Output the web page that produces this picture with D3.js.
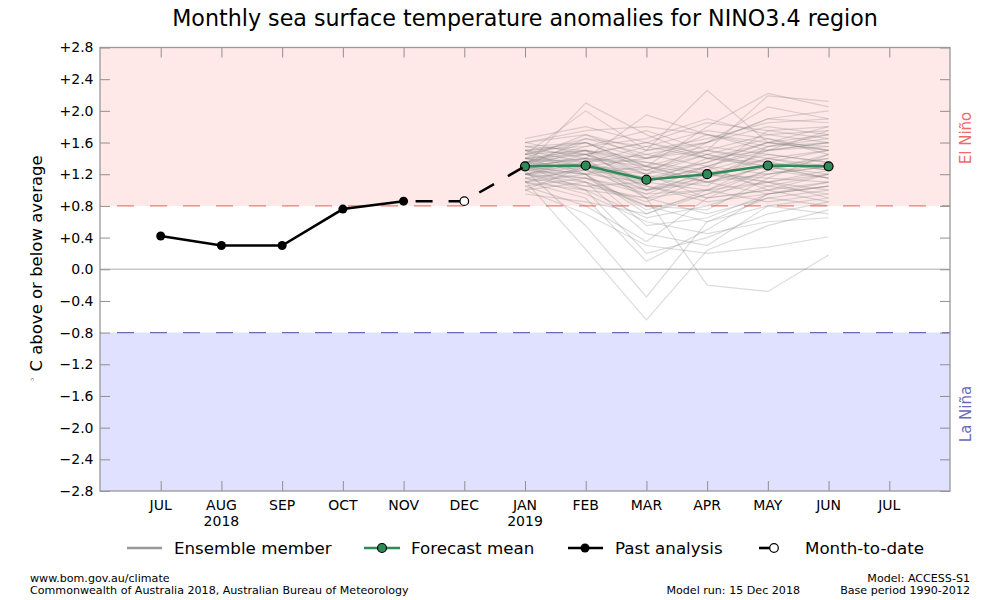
<!DOCTYPE html>
<html><head><meta charset="utf-8">
<script src="https://cdn.jsdelivr.net/npm/d3@7"></script>
<style>
body{margin:0;background:#fff;}
svg{font-family:"DejaVu Sans",sans-serif;}
</style></head>
<body><svg id="c" width="1000" height="600"></svg>
<script>
const months = ["JUL","AUG","SEP","OCT","NOV","DEC","JAN","FEB","MAR","APR","MAY","JUN","JUL"];
const yearLabels = {1:"2018", 6:"2019"};
const yTicks = [-2.8,-2.4,-2.0,-1.6,-1.2,-0.8,-0.4,0,0.4,0.8,1.2,1.6,2.0,2.4,2.8];
const yTickLabels = ["\u22122.8","\u22122.4","\u22122.0","\u22121.6","\u22121.2","\u22120.8","\u22120.4","0.0","+0.4","+0.8","+1.2","+1.6","+2.0","+2.4","+2.8"];
const pastIdx = [0,1,2,3,4];
const pastValues = [0.42,0.30,0.30,0.76,0.86];
const mtdIdx = [4,5,6];
const mtdValues = [0.86,0.86,1.30];
const forecastIdx = [6,7,8,9,10,11];
const forecastMean = [1.30,1.31,1.13,1.20,1.31,1.30];
const ensembleMembers = [
[1.12,0.25,-0.64,0.24,0.55,0.75],
[1.25,0.55,-0.35,0.60,0.90,1.00],
[1.40,1.30,0.90,-0.20,-0.28,0.18],
[1.00,0.70,0.30,0.20,0.28,0.41],
[1.50,1.20,1.50,2.26,1.60,1.50],
[1.30,2.10,1.70,1.40,1.60,1.80],
[1.45,2.00,1.50,1.60,1.90,2.00],
[1.20,1.40,1.95,1.70,1.50,1.60],
[1.35,1.60,1.30,1.80,2.22,2.05],
[1.60,1.70,1.40,1.50,2.19,2.12],
[1.30,1.50,1.20,1.60,2.05,1.90],
[1.10,0.90,0.10,0.50,0.95,1.10],
[1.20,1.00,0.20,0.40,0.70,0.85],
[1.05,0.80,0.35,0.90,1.20,1.30],
[1.30,1.10,0.45,0.30,0.80,0.90],
[1.15,0.95,0.60,0.45,0.60,0.65],
[1.25,1.20,0.70,1.00,0.85,0.95],
[1.50,1.60,1.30,1.20,1.40,1.50],
[1.20,1.30,1.00,1.10,1.30,1.20],
[1.35,1.45,1.60,1.40,1.30,1.40],
[1.40,1.20,1.10,1.30,1.50,1.60],
[1.10,1.00,0.90,1.00,1.10,0.90],
[1.60,1.75,1.80,1.70,1.60,1.70],
[1.30,1.40,1.20,0.90,1.00,1.10],
[1.00,1.10,0.80,0.60,0.80,0.70],
[1.45,1.50,1.30,1.50,1.70,1.75],
[1.25,1.30,1.40,1.60,1.80,1.70],
[1.55,1.60,1.25,1.10,1.20,1.30],
[1.20,1.15,0.95,1.25,1.45,1.35],
[1.35,1.55,1.75,1.50,1.40,1.25],
[1.40,1.35,1.05,0.85,0.95,1.05],
[1.15,1.25,1.15,1.35,1.60,1.50],
[1.30,1.20,0.75,0.95,1.25,1.45],
[1.65,1.80,1.60,1.85,1.75,1.80],
[1.50,1.45,1.10,1.00,1.35,1.25],
[1.05,1.15,1.00,1.20,1.10,1.00],
[1.30,1.65,1.45,1.30,1.55,1.65],
[1.20,1.10,0.85,1.15,1.50,1.55],
[1.45,1.30,1.20,1.45,1.25,1.15],
[1.35,1.40,0.90,0.70,0.90,0.80],
[1.25,1.35,1.55,1.75,1.65,1.50],
[1.55,1.50,1.35,1.25,1.10,1.20],
[1.10,1.20,1.30,1.10,0.95,1.05],
[1.40,1.70,1.50,1.65,1.85,1.90],
[1.20,1.25,1.00,1.30,1.20,1.35],
[1.30,1.00,0.65,0.80,1.05,1.20],
[1.50,1.55,1.65,1.90,1.70,1.60],
[1.15,1.05,1.10,1.40,1.35,1.25],
[1.35,1.30,1.15,1.05,1.55,1.70],
[1.45,1.60,1.40,1.55,1.45,1.35],
[1.25,1.15,0.80,0.75,1.15,1.45],
[1.60,1.45,1.20,1.35,1.60,1.55],
[1.00,1.30,1.25,1.45,1.30,1.15],
[1.30,1.40,1.35,1.20,1.05,0.95],
[1.40,1.50,1.00,1.15,1.40,1.30],
[1.20,1.35,1.45,1.60,1.90,1.85],
[1.35,1.25,0.95,1.00,1.25,1.40],
[1.50,1.35,1.15,1.25,1.75,1.65],
[1.10,1.30,1.05,0.90,1.00,1.20],
[1.45,1.65,1.55,1.40,1.50,1.75],
[1.30,1.20,0.55,0.65,0.95,1.05],
[1.25,1.45,1.25,1.50,1.35,1.50],
[1.55,1.40,1.30,1.10,1.30,1.15],
[1.20,1.05,0.90,1.20,1.15,1.10],
[1.40,1.45,1.60,1.45,1.65,1.45],
[1.30,1.30,1.10,1.30,1.00,0.85],
[0.95,0.85,0.70,0.95,1.10,1.25],
[1.35,1.50,1.40,1.70,1.55,1.60]
];
const elNinoThreshold = 0.8, laNinaThreshold = -0.8;

const svg = d3.select("#c");
const L=100,R=950,T=47.5,B=491;
const x = d3.scaleLinear().domain([-1,13]).range([L,R]);
const y = d3.scaleLinear().domain([-2.8,2.8]).range([B,T]);

// background regions
svg.append("rect").attr("x",L).attr("y",y(2.8)).attr("width",R-L).attr("height",y(elNinoThreshold)-y(2.8)).attr("fill","#fee8e8");
svg.append("rect").attr("x",L).attr("y",y(laNinaThreshold)).attr("width",R-L).attr("height",y(-2.8)-y(laNinaThreshold)).attr("fill","#e0e0ff");

// zero line
svg.append("line").attr("x1",L).attr("x2",R).attr("y1",y(0)).attr("y2",y(0)).attr("stroke","#c8c8c8").attr("stroke-width",1.3);
// thresholds
svg.append("line").attr("x1",L).attr("x2",R).attr("y1",y(elNinoThreshold)).attr("y2",y(elNinoThreshold))
  .attr("stroke","#f07878").attr("stroke-width",1.3).attr("stroke-dasharray","17,16").attr("stroke-dashoffset",-50);
svg.append("line").attr("x1",L).attr("x2",R).attr("y1",y(laNinaThreshold)).attr("y2",y(laNinaThreshold))
  .attr("stroke","#6a6ab8").attr("stroke-width",1.3).attr("stroke-dasharray","17,16").attr("stroke-dashoffset",-50);

// ensemble
const ensLine = d3.line().x((d,i)=>x(forecastIdx[i])).y(d=>y(d));
svg.append("g").selectAll("path").data(ensembleMembers).join("path")
  .attr("d",ensLine).attr("fill","none").attr("stroke","#808080").attr("stroke-opacity",0.28).attr("stroke-width",1.2);

// axes (inward ticks)
const tickColor="#909090";
const gb = svg.append("g").attr("transform",`translate(0,${B})`)
  .call(d3.axisBottom(x).tickValues(d3.range(0,13)).tickSize(-10).tickFormat(""));
const gt = svg.append("g").attr("transform",`translate(0,${T})`)
  .call(d3.axisTop(x).tickValues(d3.range(0,13)).tickSize(-10).tickFormat(""));
const gl = svg.append("g").attr("transform",`translate(${L},0)`)
  .call(d3.axisLeft(y).tickValues(yTicks).tickSize(-10).tickPadding(17).tickFormat((d,i)=>yTickLabels[i]));
const gr = svg.append("g").attr("transform",`translate(${R},0)`)
  .call(d3.axisRight(y).tickValues(yTicks).tickSize(-10).tickFormat(""));
[gb,gt,gl,gr].forEach(g=>{
  g.select(".domain").remove();
  g.selectAll(".tick line").attr("stroke",tickColor).attr("stroke-width",1);
});
gl.selectAll(".tick text").attr("x",-6.5).attr("font-size",14).attr("fill","#000").attr("font-family","DejaVu Sans");
// frame
svg.append("rect").attr("x",L).attr("y",T).attr("width",R-L).attr("height",B-T).attr("fill","none").attr("stroke","#999").attr("stroke-width",1.3);

// month labels
const ml = svg.append("g").attr("font-size",14).attr("text-anchor","middle");
months.forEach((m,i)=>{
  ml.append("text").attr("x",x(i)).attr("y",510).text(m);
  if(yearLabels[i]) ml.append("text").attr("x",x(i)).attr("y",526).text(yearLabels[i]);
});

// forecast mean
const fLine = d3.line().x((d,i)=>x(forecastIdx[i])).y(d=>y(d));
svg.append("path").datum(forecastMean).attr("d",fLine).attr("fill","none").attr("stroke","#2e8b57").attr("stroke-width",2.6);
svg.append("g").selectAll("circle").data(forecastMean).join("circle")
  .attr("cx",(d,i)=>x(forecastIdx[i])).attr("cy",d=>y(d)).attr("r",4.5)
  .attr("fill","#2e8b57").attr("stroke","#000").attr("stroke-width",1.2);

// month to date (dashed)
const mLine = d3.line().x((d,i)=>x(mtdIdx[i])).y(d=>y(d));
svg.append("path").datum(mtdValues).attr("d",mLine).attr("fill","none").attr("stroke","#000").attr("stroke-width",2.5)
  .attr("stroke-dasharray","17,16").attr("stroke-dashoffset",21);

// past analysis
const pLine = d3.line().x((d,i)=>x(pastIdx[i])).y(d=>y(d));
svg.append("path").datum(pastValues).attr("d",pLine).attr("fill","none").attr("stroke","#000").attr("stroke-width",2.5);
svg.append("g").selectAll("circle").data(pastValues).join("circle")
  .attr("cx",(d,i)=>x(pastIdx[i])).attr("cy",d=>y(d)).attr("r",4.5).attr("fill","#000");
// open circle month-to-date
svg.append("circle").attr("cx",x(mtdIdx[1])).attr("cy",y(mtdValues[1])).attr("r",4.3).attr("fill","#fff").attr("stroke","#000").attr("stroke-width",1.2);

// title
svg.append("text").attr("x",525).attr("y",26).attr("text-anchor","middle").attr("font-size",22.2).text("Monthly sea surface temperature anomalies for NINO3.4 region");
// y label
const yl = svg.append("text").attr("transform","translate(42,269) rotate(-90)").attr("text-anchor","middle").attr("font-size",16.5);
yl.append("tspan").attr("font-size",10).attr("dy",-6).text("\u25E6");
yl.append("tspan").attr("dy",6).text(" C above or below average");

// side labels
svg.append("text").attr("transform","translate(971,138) rotate(-90)").attr("text-anchor","middle").attr("font-size",15).attr("fill","#f06a6a").text("El Niño");
svg.append("text").attr("transform","translate(971,414) rotate(-90)").attr("text-anchor","middle").attr("font-size",15).attr("fill","#6a6ab8").text("La Niña");

// legend
const lg = svg.append("g").attr("font-size",16.7);
const ly=548;
lg.append("line").attr("x1",127).attr("x2",162).attr("y1",ly).attr("y2",ly).attr("stroke","#999").attr("stroke-width",2.6);
lg.append("text").attr("x",174).attr("y",ly+6).text("Ensemble member");
lg.append("line").attr("x1",364).attr("x2",400).attr("y1",ly).attr("y2",ly).attr("stroke","#2e8b57").attr("stroke-width",2.6);
lg.append("circle").attr("cx",382).attr("cy",ly).attr("r",4.5).attr("fill","#2e8b57").attr("stroke","#000").attr("stroke-width",1.2);
lg.append("text").attr("x",411).attr("y",ly+6).text("Forecast mean");
lg.append("line").attr("x1",568).attr("x2",603).attr("y1",ly).attr("y2",ly).attr("stroke","#000").attr("stroke-width",2.6);
lg.append("circle").attr("cx",585).attr("cy",ly).attr("r",4.5).attr("fill","#000");
lg.append("text").attr("x",615).attr("y",ly+6).text("Past analysis");
lg.append("line").attr("x1",759).attr("x2",772).attr("y1",ly).attr("y2",ly).attr("stroke","#000").attr("stroke-width",2.6);
lg.append("circle").attr("cx",774).attr("cy",ly).attr("r",4.3).attr("fill","#fff").attr("stroke","#000").attr("stroke-width",1.2);
lg.append("text").attr("x",805).attr("y",ly+6).text("Month-to-date");

// footer
const ft = svg.append("g").attr("font-size",11.1);
ft.append("text").attr("x",30).attr("y",582).text("www.bom.gov.au/climate");
ft.append("text").attr("x",30).attr("y",594).text("Commonwealth of Australia 2018, Australian Bureau of Meteorology");
ft.append("text").attr("x",800).attr("y",594).attr("text-anchor","end").text("Model run: 15 Dec 2018");
ft.append("text").attr("x",970).attr("y",582).attr("text-anchor","end").text("Model: ACCESS-S1");
ft.append("text").attr("x",970).attr("y",594).attr("text-anchor","end").text("Base period 1990-2012");
</script></body></html>
